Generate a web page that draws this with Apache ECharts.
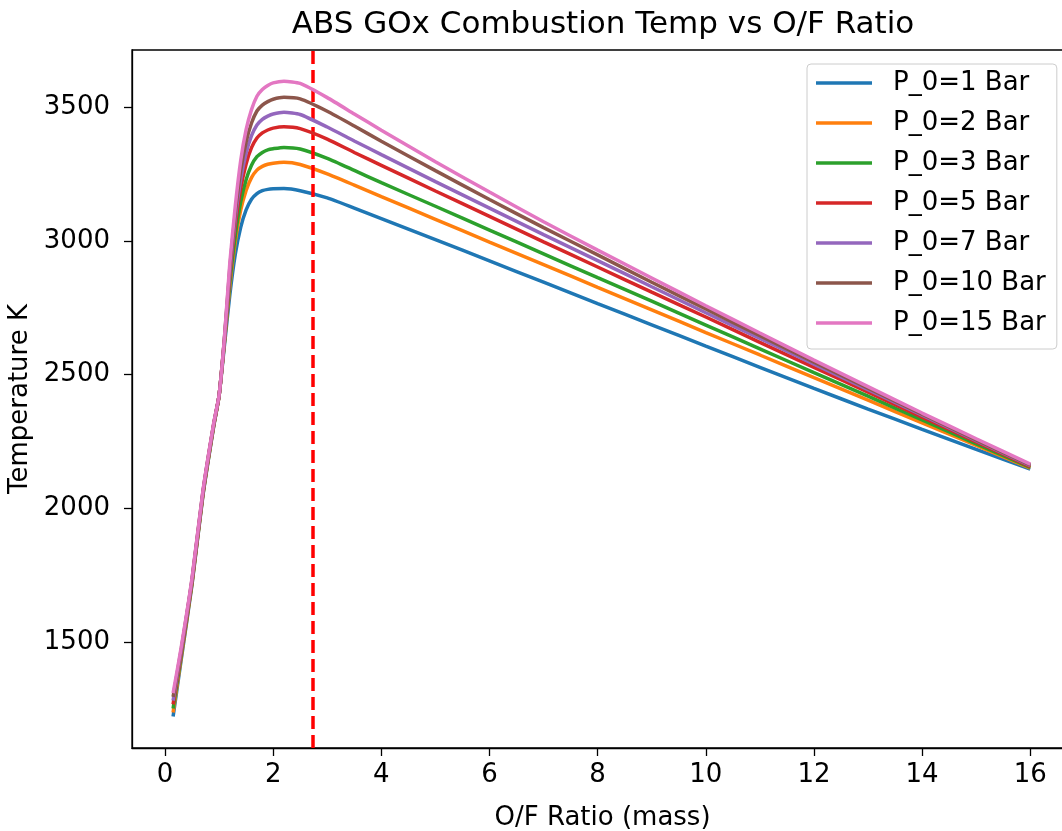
<!DOCTYPE html>
<html>
<head>
<meta charset="utf-8">
<script src="https://cdn.jsdelivr.net/npm/echarts@6/dist/echarts.min.js"></script>
<style>
  html, body { margin: 0; padding: 0; background: #fff; }
  #chart { width: 1062px; height: 831px; }
</style>
</head>
<body>
<div id="chart"></div>
<script>
// O/F ratio (mass) sample points
const ofRatio = [0.15, 0.3, 0.5, 0.7, 0.9, 1.0, 1.1, 1.2, 1.3, 1.4, 1.5, 1.6, 1.7, 1.8, 1.9, 2.0, 2.2,
  2.5, 3.0, 3.5, 4, 5, 6, 7, 8, 9, 10, 11, 12, 13, 14, 15, 16];

// combustion temperature (K) per chamber pressure
const tempP1 = [1222, 1435, 1715, 2045, 2305, 2420, 2610, 2800, 2950, 3050, 3115, 3155, 3176, 3187, 3192, 3194, 3195,
  3187, 3160, 3122, 3083, 3004, 2925, 2845, 2765, 2686, 2606, 2527, 2448, 2371, 2295, 2220, 2146];
const tempP2 = [1237, 1443, 1719, 2048, 2307, 2420, 2621, 2830, 2996, 3114, 3188, 3236, 3264, 3278, 3286, 3290, 3293,
  3285, 3250, 3208, 3165, 3080, 2995, 2911, 2826, 2742, 2657, 2573, 2488, 2404, 2319, 2235, 2150];
const tempP3 = [1252, 1451, 1723, 2051, 2309, 2421, 2624, 2847, 3019, 3145, 3228, 3282, 3314, 3330, 3340, 3344, 3349,
  3343, 3308, 3263, 3217, 3129, 3040, 2951, 2862, 2774, 2685, 2596, 2507, 2419, 2330, 2241, 2153];
const tempP5 = [1267, 1459, 1727, 2054, 2311, 2421, 2631, 2873, 3059, 3195, 3287, 3348, 3384, 3403, 3414, 3421, 3426,
  3419, 3380, 3330, 3282, 3186, 3091, 2996, 2902, 2808, 2715, 2620, 2527, 2434, 2341, 2248, 2156];
const tempP7 = [1281, 1466, 1731, 2057, 2313, 2422, 2632, 2886, 3083, 3228, 3327, 3393, 3433, 3454, 3466, 3474, 3480,
  3472, 3425, 3373, 3322, 3221, 3122, 3023, 2926, 2828, 2731, 2635, 2539, 2443, 2348, 2253, 2159];
const tempP10 = [1295, 1473, 1735, 2060, 2315, 2422, 2638, 2902, 3105, 3263, 3369, 3440, 3485, 3507, 3520, 3529, 3536,
  3530, 3484, 3429, 3372, 3262, 3154, 3049, 2947, 2845, 2745, 2645, 2546, 2449, 2352, 2256, 2162];
const tempP15 = [1309, 1480, 1739, 2063, 2317, 2423, 2640, 2920, 3130, 3300, 3415, 3490, 3540, 3565, 3580, 3590, 3596,
  3588, 3535, 3474, 3413, 3295, 3182, 3071, 2965, 2861, 2757, 2655, 2554, 2455, 2356, 2260, 2165];

const seriesNames = ["P_0=1 Bar", "P_0=2 Bar", "P_0=3 Bar", "P_0=5 Bar", "P_0=7 Bar", "P_0=10 Bar", "P_0=15 Bar"];
const seriesTemps = [tempP1, tempP2, tempP3, tempP5, tempP7, tempP10, tempP15];
const seriesColors = ["#1f77b4", "#ff7f0e", "#2ca02c", "#d62728", "#9467bd", "#8c564b", "#e377c2"];

const xTicks = [0, 2, 4, 6, 8, 10, 12, 14, 16];
const yTicks = [1500, 2000, 2500, 3000, 3500];
const optimumOF = 2.74;

const FONT = "DejaVu Sans";

const chart = echarts.init(document.getElementById("chart"));

const lineSeries = seriesNames.map((name, i) => ({
  name,
  type: "line",
  data: ofRatio.map((x, j) => [x, seriesTemps[i][j]]),
  showSymbol: false,
  smooth: 0.2,
  color: seriesColors[i],
  lineStyle: { width: 3.5, color: seriesColors[i] },
  z: 2 + i,
}));

lineSeries.push({
  name: "optimum",
  type: "line",
  data: [],
  z: 20,
  markLine: {
    silent: true,
    symbol: "none",
    label: { show: false },
    lineStyle: { color: "#ff0000", width: 3.5, type: [13, 6] },
    data: [{ xAxis: optimumOF }],
  },
});

chart.setOption({
  animation: false,
  title: {
    text: "ABS GOx Combustion Temp vs O/F Ratio",
    left: 598,
    top: 4,
    textAlign: "center",
    textStyle: { fontFamily: FONT, fontSize: 31, fontWeight: "normal", color: "#000" },
  },
  legend: {
    data: seriesNames,
    orient: "vertical",
    left: 807,
    top: 64,
    padding: [6, 11, 13, 9],
    itemGap: 14,
    itemWidth: 56,
    itemHeight: 3.5,
    icon: "rect",
    backgroundColor: "rgba(255,255,255,0.8)",
    borderColor: "#cccccc",
    borderWidth: 1,
    borderRadius: 4,
    textStyle: { fontFamily: FONT, fontSize: 26, lineHeight: 26, color: "#000", padding: [0, 0, 0, 16] },
  },
  grid: {
    left: 132,
    right: -11,
    top: 50,
    bottom: 83,
    outerBoundsMode: "none",
    containLabel: false,
    show: true,
    borderColor: "#000",
    borderWidth: 1.3,
  },
  xAxis: {
    type: "value",
    min: -0.61,
    max: 16.79,
    name: "O/F Ratio (mass)",
    nameLocation: "middle",
    nameGap: 57,
    nameTextStyle: { fontFamily: FONT, fontSize: 26, color: "#000" },
    axisLine: { show: true, onZero: false, lineStyle: { color: "#000", width: 1.3 } },
    axisTick: { show: true, length: 8, lineStyle: { color: "#000", width: 1.3 }, customValues: xTicks },
    axisLabel: { fontFamily: FONT, fontSize: 26, color: "#000", margin: 14, customValues: xTicks },
    splitLine: { show: false },
  },
  yAxis: {
    type: "value",
    min: 1104,
    max: 3713,
    name: "Temperature K",
    nameLocation: "middle",
    nameGap: 96,
    nameRotate: 90,
    nameTextStyle: { fontFamily: FONT, fontSize: 26, color: "#000" },
    axisLine: { show: true, onZero: false, lineStyle: { color: "#000", width: 1.3 } },
    axisTick: { show: true, length: 8, lineStyle: { color: "#000", width: 1.3 }, customValues: yTicks },
    axisLabel: {
      fontFamily: FONT, fontSize: 26, color: "#000", margin: 22, customValues: yTicks,
      formatter: (v) => String(v),
    },
    splitLine: { show: false },
  },
  series: lineSeries,
});
</script>
</body>
</html>
